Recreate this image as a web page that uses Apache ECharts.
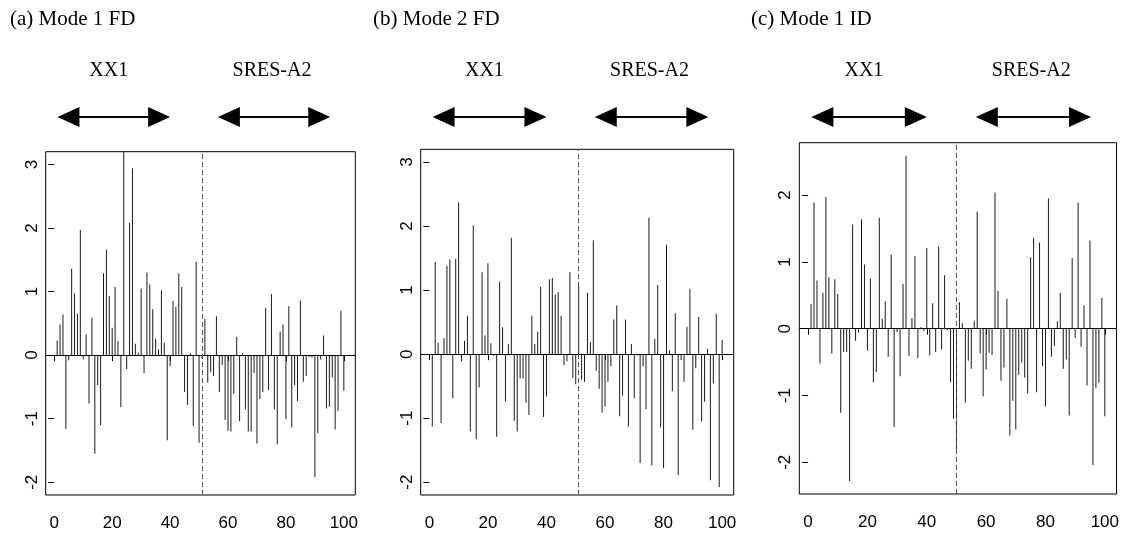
<!DOCTYPE html>
<html><head><meta charset="utf-8">
<script src="https://cdn.jsdelivr.net/npm/echarts@6/dist/echarts.min.js"></script>
<style>html,body{margin:0;padding:0;background:#fff}#c{width:1122px;height:535px}</style>
</head><body><div id="c"></div><script>
// ---------- data ----------
const index = Array.from({length:100},(_,i)=>i+1);
const mode1FD = [0.23,0.48,0.64,-1.16,-0.08,1.36,0.97,0.65,1.97,-0.07,
 0.33,-0.76,0.59,-1.55,-0.47,-1.10,1.29,1.66,0.93,0.43,
 1.07,0.22,-0.82,3.6,-0.22,2.08,2.94,0.18,0.04,1.05,
 -0.28,1.30,1.11,0.72,0.26,0.09,1.02,0.20,-1.34,-0.17,
 0.85,0.76,1.29,1.07,-0.58,-0.78,0.03,-1.12,1.47,-1.38,
 -0.05,0.57,-0.43,-0.27,-0.33,0.61,-0.58,-0.15,-1.02,-1.19,
 -1.20,-0.61,0.29,-1.04,0.03,-0.85,-1.20,-1.20,-0.28,-1.39,
 -0.69,-0.58,0.74,-0.55,0.96,-0.85,-1.40,0.37,0.48,-1.01,
 0.77,-1.14,-0.47,-0.72,0.86,-0.42,-0.33,-0.03,-0.04,-1.92,
 -1.23,-0.07,0.31,-0.84,-0.81,-0.35,-1.17,-0.88,0.70,-0.56];
const mode2FD = [-1.13,1.44,0.18,-1.08,0.25,1.38,1.48,-0.69,1.49,2.37,
 -0.11,0.21,0.60,-1.21,2.01,-1.33,-0.52,1.28,0.29,1.42,
 0.17,-0.03,-1.29,1.13,0.42,-0.74,0.16,1.82,-1.04,-1.21,
 -0.38,-0.38,-0.76,-0.95,0.60,0.16,0.35,1.05,-0.98,-0.66,
 1.17,1.19,0.93,0.97,0.60,-0.17,-0.11,1.28,-0.37,-0.47,
 1.06,-0.40,-0.43,0.96,0.19,1.78,-0.26,-0.54,-0.91,-0.82,
 -0.43,-0.19,0.54,0.76,-0.97,-0.65,0.54,-1.13,0.16,-0.69,
 -0.02,-1.70,-0.19,-0.86,2.13,-1.74,0.24,1.08,-1.14,-1.78,
 1.71,0.06,-0.58,0.64,-1.89,-0.09,-0.43,0.43,1.02,-1.18,
 -0.22,0.58,-1.05,-0.74,0.08,-1.97,-0.46,0.63,-2.08,0.22];
const mode1ID = [0.37,1.89,0.72,-0.52,0.54,1.97,0.77,-0.37,0.74,0.52,
 -1.26,-0.35,-0.35,-2.28,1.56,-0.18,-0.06,1.64,0.96,-0.33,
 0.75,-0.80,-0.65,1.66,0.15,0.41,-0.42,1.11,-1.47,-0.05,
 -0.71,0.67,2.59,-0.41,0.16,1.09,-0.44,0.02,-0.03,1.21,
 -0.40,0.38,-0.35,1.23,-0.31,0.80,-0.02,-0.80,-1.35,-1.80,
 0.40,0.08,-1.11,-0.48,-0.60,0.12,1.75,-0.37,-1.01,-0.61,
 -0.36,-0.39,2.04,0.57,-0.78,-0.58,0.45,-1.60,-1.08,-1.51,
 -0.69,-0.51,-0.73,-0.97,1.07,1.36,-0.95,1.29,-0.56,-1.16,
 1.95,-0.42,-0.26,0.11,0.54,-0.60,-0.46,-1.30,1.06,-0.14,
 1.89,-0.27,0.35,-0.85,1.32,-2.04,-0.89,-0.81,0.46,-1.31];
const panelTitles = ['(a) Mode 1 FD','(b) Mode 2 FD','(c) Mode 1 ID'];
const periodLabels = ['XX1','SRES-A2'];
const xTicks = [0,20,40,60,80,100];
const yTicksFD = [-2,-1,0,1,2,3];
const yTicksID = [-2,-1,0,1,2];
const dividers = [51,51,50];
const yLimitsFD = [-2,3];

// ---------- layout ----------
const seriesList = [mode1FD, mode2FD, mode1ID];
const grids = [
  {left:45.7, top:151.7, width:309.6, height:343.3},
  {left:420.7, top:149.3, width:313, height:345.7},
  {left:799.3, top:142.7, width:317.4, height:351.3}
];
const xr = [1-0.04*99, 100+0.04*99];
function ext(lo,hi){const d=hi-lo;return [lo-0.04*d, hi+0.04*d];}
const yRanges = [
  ext(yLimitsFD[0], yLimitsFD[1]),
  ext(yLimitsFD[0], yLimitsFD[1]),
  ext(Math.min(...mode1ID), Math.max(...mode1ID))
];
const yTickSets = [yTicksFD, yTicksFD, yTicksID];
const titleX = [10, 373, 751];
const serif = '"Liberation Serif","Times New Roman",serif';
const sans = '"Liberation Sans",Arial,sans-serif';

function px(k, v){const g=grids[k];return g.left + (v-xr[0])/(xr[1]-xr[0])*g.width;}

const graphic = [];
for (let k=0;k<3;k++){
  graphic.push({type:'text', left:titleX[k], top:9, style:{text:panelTitles[k], font:'21px '+serif, fill:'#000'}});
  const labelPos = [18.8, 75.2];
  const arrows = [[1.1,40],[56.5,95.3]];
  for (let j=0;j<2;j++){
    graphic.push({type:'text', x:px(k,labelPos[j]), y:71, style:{text:periodLabels[j], font:'20px '+serif, fill:'#000', align:'center', verticalAlign:'middle'}});
    const a=px(k,arrows[j][0]), b=px(k,arrows[j][1]), y=117;
    graphic.push({type:'line', shape:{x1:a+15,y1:y,x2:b-15,y2:y}, style:{stroke:'#000', lineWidth:2}});
    graphic.push({type:'polygon', shape:{points:[[a,y],[a+22,y-10],[a+22,y+10]]}, style:{fill:'#000'}});
    graphic.push({type:'polygon', shape:{points:[[b,y],[b-22,y-10],[b-22,y+10]]}, style:{fill:'#000'}});
  }
}

const option = {
  animation:false,
  backgroundColor:'#fff',
  grid: grids.map(g=>Object.assign({show:true, borderColor:'#000', borderWidth:1, backgroundColor:'transparent'}, g)),
  xAxis: grids.map((g,k)=>({
    gridIndex:k, type:'value', min:xr[0], max:xr[1],
    splitLine:{show:false}, axisLine:{show:false},
    axisTick:{show:true, length:6, customValues:xTicks, lineStyle:{color:'#000', width:1}},
    axisLabel:{customValues:xTicks, fontSize:17, fontFamily:sans, color:'#000', margin:20}
  })),
  yAxis: grids.map((g,k)=>({
    gridIndex:k, type:'value', min:yRanges[k][0], max:yRanges[k][1],
    splitLine:{show:false}, axisLine:{show:false},
    axisTick:{show:true, length:6, customValues:yTickSets[k], lineStyle:{color:'#000', width:1}},
    axisLabel:{customValues:yTickSets[k], rotate:90, fontSize:17, fontFamily:sans, color:'#000', margin:5}
  })),
  series: seriesList.map((vals,k)=>({
    type:'bar', xAxisIndex:k, yAxisIndex:k, clip:true,
    barWidth:1, itemStyle:{color:'#1a1a1a'},
    data: index.map((x,i)=>[x, vals[i]]),
    markLine:{
      silent:true, symbol:['none','none'], label:{show:false},
      data:[
        {yAxis:0, lineStyle:{type:'solid', color:'#000', width:1}},
        {xAxis:dividers[k], lineStyle:{type:[5,3], color:'#555', width:1}}
      ]
    }
  })),
  graphic: graphic
};
const chart = echarts.init(document.getElementById('c'), null, {renderer:'canvas'});
chart.setOption(option);
</script></body></html>
